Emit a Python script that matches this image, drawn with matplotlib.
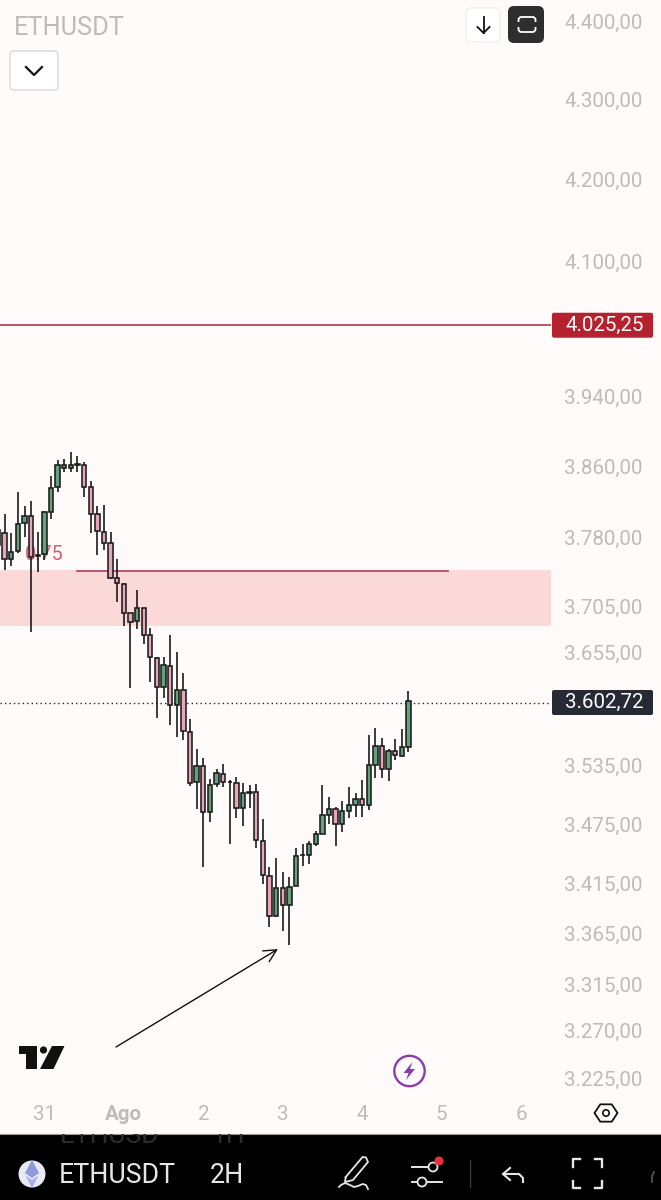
import numpy as np
import matplotlib
matplotlib.use('Agg')
import matplotlib.pyplot as plt
from matplotlib.patches import Circle, FancyBboxPatch, Polygon, Rectangle
from matplotlib.ticker import NullFormatter, NullLocator
from matplotlib.transforms import offset_copy

plt.rcParams['font.family'] = ['Roboto', 'DejaVu Sans']

# 2H candles
opens = [3789, 3785, 3757, 3765, 3796, 3804, 3760, 3762, 3809, 3837, 3858, 3858, 3862, 3861.5, 3837, 3806,
         3786.4, 3774, 3736, 3729.5, 3697, 3689, 3703, 3673.3, 3649, 3617.5, 3640.5, 3599, 3615, 3570, 3518.2,
         3535, 3487, 3516.2, 3526.5, 3518, 3517, 3491.4, 3507, 3508, 3458, 3422, 3382, 3410, 3393, 3412,
         3443, 3443.6, 3454.7, 3465, 3484.3, 3490.4, 3475, 3488.4, 3494.5, 3500.6, 3494.5, 3535.8, 3555.6,
         3531.7, 3550.4, 3545.2, 3555]
highs = [3810, 3807, 3785, 3831, 3816, 3821, 3786, 3810, 3849, 3867, 3869, 3877, 3872, 3865, 3844, 3815,
         3817, 3786.8, 3757, 3730, 3697, 3722.5, 3703, 3681, 3650, 3650, 3673, 3655, 3633, 3584, 3552.4,
         3543, 3521, 3531.7, 3536.9, 3520.3, 3523.5, 3517, 3515, 3516, 3480, 3431.5, 3440.5, 3426.4, 3421.4,
         3450.6, 3454.7, 3457.8, 3468, 3515, 3502.7, 3492.5, 3498.6, 3513, 3506.8, 3520.3, 3567.2, 3574.5,
         3564, 3552.4, 3563, 3573.5, 3613.6]
lows = [3766, 3744, 3749, 3763, 3781, 3677, 3742, 3755, 3801, 3831, 3854, 3854, 3854, 3825.3, 3785, 3761,
        3767, 3734, 3709, 3683, 3616.5, 3680, 3664, 3623, 3585, 3606, 3578, 3565, 3562, 3514, 3490.4,
        3431.5, 3477, 3513, 3513, 3454.7, 3481.2, 3473, 3491.4, 3450.6, 3414.3, 3371.4, 3381.3, 3367.5, 3353.6,
        3412, 3432.5, 3434.6, 3452.7, 3464.8, 3475, 3452.7, 3467, 3481.2, 3482.3, 3482.3, 3489.4, 3522.4,
        3522.4, 3519.3, 3541, 3544, 3549.3]
closes = [3772, 3757, 3764.5, 3795, 3804, 3759, 3761, 3809, 3836, 3862, 3862, 3862, 3863, 3837.3, 3807, 3787.3,
          3774.5, 3736, 3730, 3697.4, 3688, 3703, 3674, 3649.5, 3617.5, 3641, 3599, 3615, 3571, 3517, 3534.8,
          3487, 3515, 3527.6, 3518, 3518.5, 3491.4, 3506.8, 3508, 3459, 3423.3, 3382, 3410.3, 3393, 3411.3,
          3442.6, 3443.6, 3454.7, 3464.8, 3484.3, 3490.4, 3475.1, 3488.4, 3494.5, 3500.6, 3494.5, 3535.8, 3555.6,
          3531.7, 3550.4, 3546.2, 3554.5, 3602.72]

price_ticks = [4400, 4300, 4200, 4100, 3940, 3860, 3780, 3705, 3655, 3535, 3475, 3415, 3365, 3315, 3270, 3225]
price_labels = ['4.400,00', '4.300,00', '4.200,00', '4.100,00', '3.940,00', '3.860,00', '3.780,00', '3.705,00',
                '3.655,00', '3.535,00', '3.475,00', '3.415,00', '3.365,00', '3.315,00', '3.270,00', '3.225,00']
day_ticks = [6, 18, 30, 42, 54, 66, 78]
day_labels = ['31', 'Ago', '2', '3', '4', '5', '6']

resistance = 4025.25
last_price = 3602.72
zone_top = 3744
zone_bottom = 3683

BG = '#fffbfa'
GREEN = '#64a17c'
PINK = '#e8a7b9'
EDGE = '#1b1b1b'
GREY = '#bdbcbb'
W, H = 661, 1200
PX_PER_LOG = 3402.0
LINE_NUDGE = 1.3  # the two price lines sit a touch below the fitted log scale


def px_to_price(y):
    return 3225 * np.exp((1078 - y) / PX_PER_LOG)


def price_to_px(p):
    return 1078 - np.log(p / 3225) * PX_PER_LOG


def draw_candles(ax):
    x = np.arange(len(opens)) - 1
    o, h, l, c = map(np.array, (opens, highs, lows, closes))
    colors = [GREEN if b >= a else PINK for a, b in zip(o, c)]
    ax.vlines(x, l, h, color=EDGE, lw=1.2, zorder=4)
    ax.bar(x, np.abs(c - o), bottom=np.minimum(o, c), width=0.66, color=colors,
           edgecolor=EDGE, linewidth=1.15, zorder=5)


def draw_chart(ax):
    ax.set_facecolor(BG)
    ax.set_yscale('log')
    ax.set_ylim(px_to_price(1095), px_to_price(0))
    ax.set_xlim(-4.67 / 6.62, (551 - 4.67) / 6.62)
    for s in ax.spines.values():
        s.set_visible(False)

    ax.yaxis.tick_right()
    ax.yaxis.set_major_locator(plt.FixedLocator(price_ticks))
    ax.yaxis.set_major_formatter(plt.FixedFormatter(price_labels))
    ax.yaxis.set_minor_locator(NullLocator())
    ax.yaxis.set_minor_formatter(NullFormatter())
    ax.tick_params(axis='y', length=0, pad=9.5, labelsize=14.8, labelcolor=GREY)

    ax.set_xticks(day_ticks)
    ax.set_xticklabels(day_labels)
    ax.tick_params(axis='x', length=0, pad=7, labelsize=14.8, labelcolor=GREY)
    ax.get_xticklabels()[1].set_fontweight('bold')

    ax.axhspan(zone_bottom, zone_top, color='#fcd9d9', lw=0, zorder=1)
    shifted = offset_copy(ax.get_yaxis_transform(), fig=ax.figure, y=-LINE_NUDGE, units='dots')
    ax.plot([0, 1], [resistance, resistance], color='#ac2a3e', lw=1.1, zorder=2, transform=shifted)
    ax.plot([0, 1], [last_price, last_price], color='#222222', lw=1.0, ls=(0, (1, 2.2)), zorder=2, transform=shifted)
    ax.plot([11, 67], [zone_top - 0.5, zone_top - 0.5], color='#b0405a', lw=1.2, zorder=2)
    ax.text(3.1, 3762, '0.75', color='#d0607a', fontsize=14.3, va='center', zorder=3)
    draw_candles(ax)


def price_box(ui, price, text, color):
    y = price_to_px(price) + LINE_NUDGE
    ui.add_patch(FancyBboxPatch((552, y - 12.5), 101, 25, boxstyle='round,pad=0,rounding_size=2',
                                fc=color, ec='none'))
    ui.text(604.5, y, text, color='white', fontsize=14.8, ha='center', va='center')


def rounded(ui, x, y, w, h, r, fc, ec='none', lw=1):
    ui.add_patch(FancyBboxPatch((x, y), w, h, boxstyle=f'round,pad=0,rounding_size={r}', fc=fc, ec=ec, lw=lw))


def draw_top_controls(ui):
    ui.text(14, 28, 'ETHUSDT', color=GREY, fontsize=18.3, va='center')
    rounded(ui, 10, 51, 48, 39, 4, 'white', '#d9d9d9')
    ui.plot([26, 34, 42], [67, 75, 67], color='#111111', lw=1.6)
    rounded(ui, 466, 8, 34, 34, 4, 'white', '#f1eeee')
    ui.plot([483.5, 483.5], [17, 33], color='#111111', lw=1.3)
    ui.plot([477.5, 483.5, 489.5], [27, 33, 27], color='#111111', lw=1.3)
    rounded(ui, 508, 6, 36, 37, 6, '#2e2e2e')
    rounded(ui, 518.5, 17, 17, 15, 3, 'none', 'white', 1.3)
    ui.add_patch(Rectangle((515, 22), 24, 5, fc='#2e2e2e', ec='none'))


def draw_logo(ui):
    ui.add_patch(Polygon([(18.5, 1046), (37, 1046), (37, 1069), (26, 1069), (26, 1054), (18.5, 1054)],
                         fc='#111111', ec='none'))
    ui.add_patch(Circle((43.5, 1050), 3.6, fc='#111111', ec='none'))
    ui.add_patch(Polygon([(52, 1046), (64.5, 1046), (53.5, 1069), (40, 1069)], fc='#111111', ec='none'))


def draw_bolt_and_gear(ui):
    ui.add_patch(Circle((409.5, 1071), 15.2, fc='none', ec='#8a3bb0', lw=1.7))
    ui.add_patch(Polygon([(412.5, 1062), (403.5, 1073), (408.5, 1073), (406, 1080), (415, 1069), (410, 1069)],
                         fc='#8a3bb0', ec='none'))
    ang = np.deg2rad([0, 60, 120, 180, 240, 300])
    ui.add_patch(Polygon(np.c_[606 + 11.5 * np.cos(ang), 1113 + 10 * np.sin(ang)], fc='none', ec='#111111', lw=1.3))
    ui.add_patch(Circle((606, 1113), 3.2, fc='none', ec='#111111', lw=1.2))


def draw_bottom_bar(ui):
    ui.add_patch(Rectangle((0, 1134), W, 66, fc='#000000', ec='none', zorder=1))
    ui.plot([0, W], [1133.5, 1133.5], color='#9a9a9a', lw=0.8, zorder=2)
    clip = Rectangle((0, 1134), W, 66, transform=ui.transData)
    for x, s in [(60, 'ETHUSD'), (212, '1H')]:
        t = ui.text(x, 1136, s, color='#2c2c2c', fontsize=19, va='center', zorder=2, clip_on=True)
        t.set_clip_path(clip)
    ui.text(59, 1175.5, 'ETHUSDT', color='#e6e6e6', fontsize=19.3, va='center', zorder=3)
    ui.text(210, 1175.5, '2H', color='#e6e6e6', fontsize=19.3, va='center', zorder=3)

    # eth coin
    ui.add_patch(Circle((32, 1174), 13.5, fc='#e9e9f2', ec='none', zorder=3))
    ui.add_patch(Polygon([(32, 1160), (39, 1173), (32, 1178), (25, 1173)], fc='#8b9be0', ec='none', zorder=4))
    ui.add_patch(Polygon([(32, 1180), (38.5, 1175.5), (32, 1188), (25.5, 1175.5)], fc='#a6b2ea', ec='none', zorder=4))

    # pen
    c = '#e6e6e6'
    ui.plot([345.7, 362.6, 366, 368, 353, 345, 345.7], [1177, 1157, 1157.5, 1162, 1180, 1182, 1177], color=c, lw=1.3, zorder=3)
    ui.plot([339, 341, 345, 350, 354, 358, 362.6, 366, 368], [1187, 1185, 1183, 1185, 1187, 1186, 1184, 1185, 1189],
            color=c, lw=1.3, zorder=3)

    # sliders
    ui.plot([412, 428], [1167, 1167], color=c, lw=1.4, zorder=3)
    ui.plot([412, 417], [1182, 1182], color=c, lw=1.4, zorder=3)
    ui.plot([428, 442], [1182, 1182], color=c, lw=1.4, zorder=3)
    ui.add_patch(Circle((433, 1167), 4.5, fc='none', ec=c, lw=1.3, zorder=3))
    ui.add_patch(Circle((422, 1182), 4.5, fc='none', ec=c, lw=1.3, zorder=3))
    ui.add_patch(Circle((439, 1161), 4.5, fc='#e8323c', ec='none', zorder=4))
    ui.plot([470, 470], [1160, 1187], color='#3a3a3a', lw=1, zorder=3)

    # undo
    ui.plot([503, 513, 519, 523, 523], [1174, 1174, 1174, 1178, 1182], color=c, lw=1.5, zorder=3)
    ui.plot([510, 503, 510], [1168, 1174, 1180], color=c, lw=1.5, zorder=3)

    # full screen corners
    for xs, ys in [([573, 573, 580], [1167, 1159, 1159]), ([595, 602, 602], [1159, 1159, 1167]),
                   ([573, 573, 580], [1181, 1188, 1188]), ([595, 602, 602], [1188, 1188, 1181])]:
        ui.plot(xs, ys, color=c, lw=1.7, zorder=3)
    ui.plot([654, 652, 652], [1172, 1176, 1182], color='#5a5a5a', lw=1.2, zorder=3)


def main():
    fig = plt.figure(figsize=(W / 100, H / 100), dpi=100, facecolor=BG)
    ax = fig.add_axes([0, 1 - 1095 / H, 551 / W, 1095 / H])
    draw_chart(ax)

    ui = fig.add_axes([0, 0, 1, 1], facecolor='none')
    ui.set_xlim(0, W)
    ui.set_ylim(H, 0)
    ui.axis('off')

    price_box(ui, resistance, '4.025,25', '#b5222f')
    price_box(ui, last_price, '3.602,72', '#262a35')
    ui.annotate('', xy=(278, 949), xytext=(116, 1047),
                arrowprops=dict(arrowstyle='->,head_length=0.9,head_width=0.45', color='#111111', lw=1.0,
                                shrinkA=0, shrinkB=0))
    draw_top_controls(ui)
    draw_logo(ui)
    draw_bolt_and_gear(ui)
    draw_bottom_bar(ui)

    fig.savefig('out.png', dpi=100, facecolor=BG)
    plt.close(fig)


if __name__ == '__main__':
    main()
